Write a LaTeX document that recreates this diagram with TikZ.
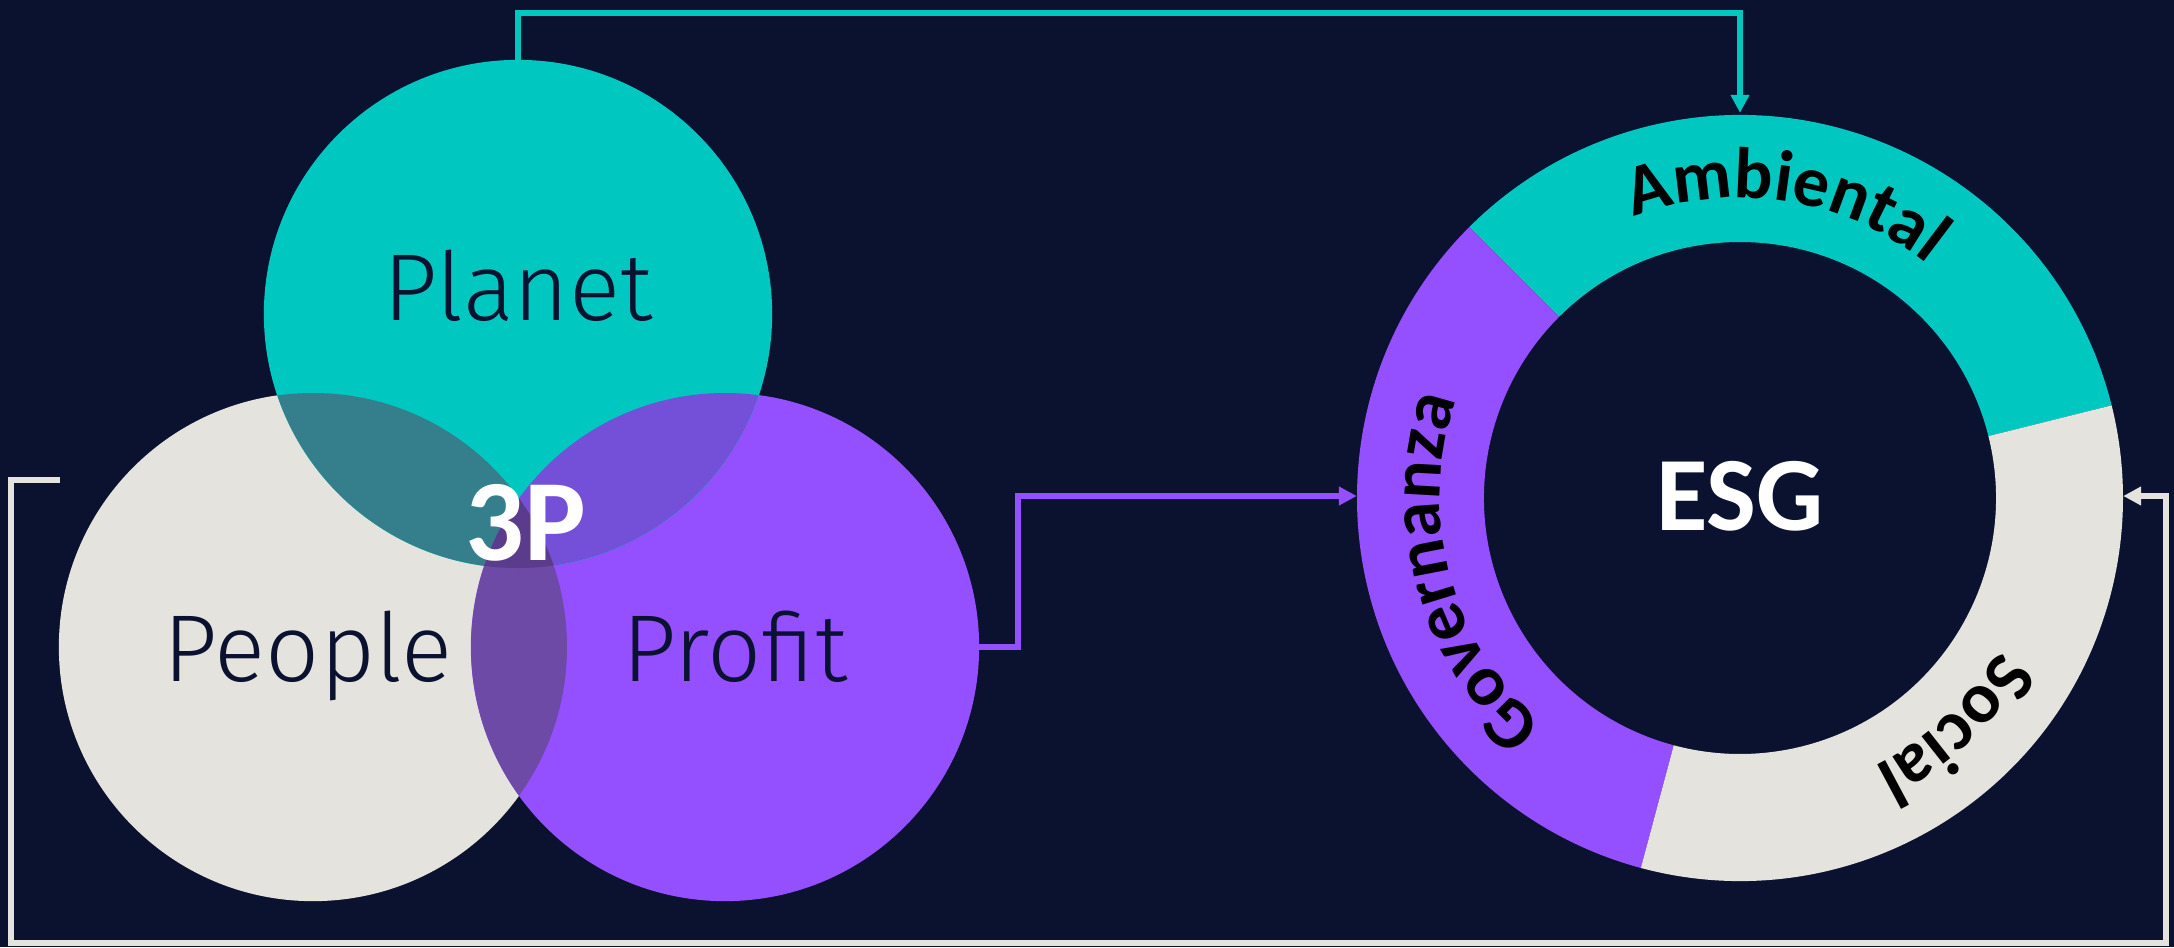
\documentclass[tikz,border=0pt]{standalone}
\usepackage{fontspec}
\setmainfont{Carlito}
\newfontfamily\thinfont{Fira Sans Light}
\usetikzlibrary{arrows.meta,decorations.text}
\definecolor{bgnavy}{HTML}{0B1230}
\definecolor{esgteal}{HTML}{00C7C0}
\definecolor{esgpurple}{HTML}{944FFF}
\definecolor{esggray}{HTML}{E5E3DD}
\definecolor{tealgray}{HTML}{357E8C}
\definecolor{tealpurple}{HTML}{7450D8}
\definecolor{graypurple}{HTML}{6C4AA6}
\definecolor{allthree}{HTML}{5B3B8C}
\tikzset{
  pcircle/.style={circle,minimum size=5.08cm,inner sep=0pt,outer sep=0pt},
  plabel/.style={anchor=base,text=bgnavy,font=\thinfont\fontsize{27}{30}\selectfont},
  link/.style={line width=1.7pt,-{Triangle[length=0.18cm,width=0.18cm]}},
  ringtext/.style={decorate,decoration={text along path,text align=center,
    text={|\bfseries\fontsize{20.5}{24}\selectfont|#1}}}
}
\begin{document}
\begin{tikzpicture}[x=0.01cm,y=0.01cm]
  \useasboundingbox (0,0) rectangle (2174,947);
  \fill[bgnavy] (0,0) rectangle (2174,947);
  \node[pcircle,fill=esggray] (people) at (313,300) {};
  \node[pcircle,fill=esgpurple] (profit) at (725,300) {};
  \node[pcircle,fill=esgteal] (planet) at (518,633) {};
  \begin{scope}
    \clip (planet.center) circle[radius=254];
    \fill[tealgray] (people.center) circle[radius=254];
    \fill[tealpurple] (profit.center) circle[radius=254];
  \end{scope}
  \begin{scope}
    \clip (people.center) circle[radius=254];
    \fill[graypurple] (profit.center) circle[radius=254];
    \clip (planet.center) circle[radius=254];
    \fill[allthree] (profit.center) circle[radius=254];
  \end{scope}
  \node[plabel] (planettext) at (518,627) {Planet};
  \node[plabel] (peopletext) at (308,266) {People};
  \node[plabel] (profittext) at (735,266) {Profit};
  \node[anchor=base,text=white,font=\bfseries\fontsize{33}{36}\selectfont] (threep) at (526,387) {3P};

  \node[circle,minimum size=7.66cm,inner sep=0pt,outer sep=0pt,text=white,
    font=\bfseries\fontsize{30}{33}\selectfont] (esg) at (1740,451) {ESG};
  \begin{scope}[shift={(1740,449)}]
    \fill[esgteal] (14:383) arc[start angle=14,end angle=135,radius=383]
      -- (135:256) arc[start angle=135,end angle=14,radius=256] -- cycle;
    \fill[esgpurple] (135:383) arc[start angle=135,end angle=255,radius=383]
      -- (255:256) arc[start angle=255,end angle=135,radius=256] -- cycle;
    \fill[esggray] (255:383) arc[start angle=255,end angle=374,radius=383]
      -- (374:256) arc[start angle=374,end angle=255,radius=256] -- cycle;
    \path[ringtext=Ambiental] (116:300) arc[start angle=116,end angle=46,radius=300];
    \path[ringtext=Governanza] (235:300) arc[start angle=235,end angle=155,radius=300];
    \path[ringtext=Social] (-12:300) arc[start angle=-12,end angle=-82,radius=300];
  \end{scope}

  \draw[link,esgteal] (planet.north) -- ++(0,47) -| (esg.north);
  \draw[link,esgpurple] (profit.east) -- ++(39,0) |- (esg.west);
  \coordinate (stub) at (60,467);
  \draw[link,esggray] (stub) -| ++(-49,-463) -| ([xshift=0.43cm]esg.east) -- (esg.east);
\end{tikzpicture}
\end{document}
